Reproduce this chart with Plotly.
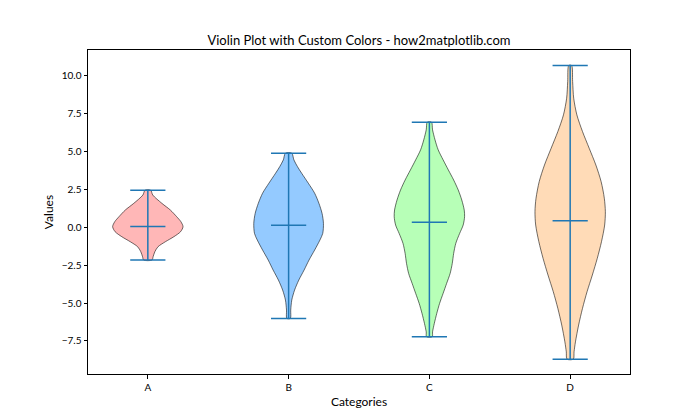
import plotly.graph_objects as go

# categories and violin positions
categories = ['A', 'B', 'C', 'D']
positions = [1, 2, 3, 4]
fill_colors = ['#FF9999', '#66B3FF', '#99FF99', '#FFCC99']

# extrema and mean of each group
maxima = [2.45, 4.89, 6.94, 10.68]
minima = [-2.16, -6.01, -7.22, -8.70]
means = [0.06, 0.14, 0.33, 0.44]

# KDE outline of each violin: values (y) and relative half width (1 = widest)
a_vals = [-2.16, -1.94, -1.61, -1.28, -0.95, -0.62, -0.29, 0.04, 0.37, 0.70, 1.14, 1.58, 2.13, 2.45]
a_dens = [0.12, 0.15, 0.20, 0.29, 0.50, 0.74, 0.93, 1.00, 0.94, 0.82, 0.64, 0.40, 0.14, 0.08]

b_vals = [-6.01, -5.46, -4.80, -4.14, -3.48, -2.82, -2.16, -1.50, -0.84, -0.40, 0.26, 0.92, 1.59, 2.25, 2.91, 3.57, 4.01, 4.45, 4.89]
b_dens = [0.05, 0.06, 0.09, 0.17, 0.29, 0.44, 0.58, 0.74, 0.89, 0.97, 0.99, 0.95, 0.86, 0.74, 0.56, 0.37, 0.25, 0.15, 0.09]

c_vals = [-7.22, -6.90, -6.34, -5.68, -5.02, -4.36, -3.70, -3.04, -2.38, -1.72, -1.06, -0.40, 0.15, 0.70, 1.14, 1.80, 2.46, 3.12, 3.78, 4.45, 5.11, 5.77, 6.43, 6.94]
c_dens = [0.08, 0.09, 0.14, 0.21, 0.29, 0.39, 0.49, 0.59, 0.65, 0.69, 0.75, 0.86, 0.96, 1.00, 0.99, 0.92, 0.82, 0.69, 0.54, 0.39, 0.25, 0.16, 0.09, 0.06]

d_vals = [-8.70, -8.22, -7.56, -6.45, -5.35, -4.25, -3.15, -2.05, -0.95, 0.15, 1.03, 1.92, 3.01, 4.11, 5.22, 6.32, 7.42, 8.52, 9.62, 10.68]
d_dens = [0.09, 0.11, 0.15, 0.24, 0.35, 0.48, 0.63, 0.77, 0.89, 0.98, 1.00, 0.97, 0.88, 0.73, 0.54, 0.35, 0.19, 0.10, 0.07, 0.04]

outline_vals = [a_vals, b_vals, c_vals, d_vals]
outline_dens = [a_dens, b_dens, c_dens, d_dens]

HALF_WIDTH = 0.25   # violin width 0.5
CAP = 0.125         # half length of the extrema / mean caps
LINE_BLUE = '#1f77b4'


def hex_rgba(h, a):
    h = h.lstrip('#')
    return 'rgba(%d,%d,%d,%s)' % (int(h[0:2], 16), int(h[2:4], 16), int(h[4:6], 16), a)


fig = go.Figure()

for pos, vals, dens, col in zip(positions, outline_vals, outline_dens, fill_colors):
    right_x = [pos + HALF_WIDTH * d for d in dens]
    left_x = [pos - HALF_WIDTH * d for d in reversed(dens)]
    fig.add_trace(go.Scatter(
        x=right_x + left_x + [right_x[0]],
        y=vals + list(reversed(vals)) + [vals[0]],
        mode='lines', fill='toself',
        fillcolor=hex_rgba(col, 0.7),
        line=dict(color='rgba(0,0,0,0.7)', width=0.8, shape='spline', smoothing=0.8),
        hoverinfo='skip', showlegend=False,
    ))

# extrema bars, centre line and mean bars
for pos, lo, hi, mu in zip(positions, minima, maxima, means):
    xs = [pos - CAP, pos + CAP, None, pos - CAP, pos + CAP, None, pos, pos, None, pos - CAP, pos + CAP]
    ys = [hi, hi, None, lo, lo, None, lo, hi, None, mu, mu]
    fig.add_trace(go.Scatter(
        x=xs, y=ys, mode='lines',
        line=dict(color=LINE_BLUE, width=1.5),
        hoverinfo='skip', showlegend=False,
    ))

font_family = 'Lato, DejaVu Sans, sans-serif'

fig.update_layout(
    width=700, height=420,
    margin=dict(l=88, r=70, t=50, b=46),
    paper_bgcolor='white', plot_bgcolor='white',
    font=dict(family=font_family, size=10, color='black'),
    title=dict(text='Violin Plot with Custom Colors - how2matplotlib.com',
               x=(88 + 630) / 2 / 700, xanchor='center',
               y=1 - 40 / 420, yanchor='middle', yref='container',
               font=dict(size=13, color='black')),
)

fig.update_xaxes(
    range=[0.575, 4.425], tickvals=positions, ticktext=categories,
    showline=True, mirror=True, linecolor='black', linewidth=1,
    ticks='outside', ticklen=3.5, tickcolor='black',
    showgrid=False, zeroline=False,
    title=dict(text='Categories', standoff=6),
)
fig.update_yaxes(
    range=[-9.68, 11.70], tickvals=[-7.5, -5.0, -2.5, 0.0, 2.5, 5.0, 7.5, 10.0],
    tickformat='.1f',
    showline=True, mirror=True, linecolor='black', linewidth=1,
    ticks='outside', ticklen=3.5, tickcolor='black',
    showgrid=False, zeroline=False,
    title=dict(text='Values', standoff=5),
)

# page body has a default 8px margin; drop it so the figure sits at 0,0
fig.write_html('out.html', config={'displayModeBar': False},
               post_script="document.body.style.margin='0';")
